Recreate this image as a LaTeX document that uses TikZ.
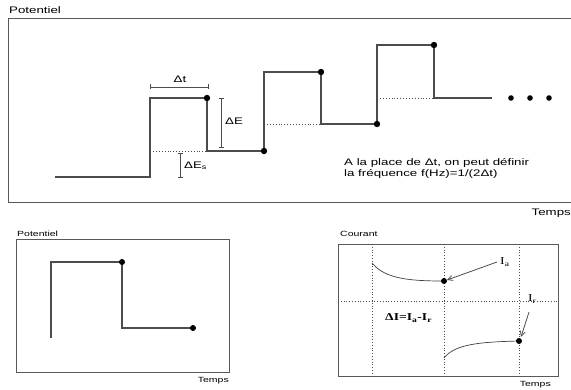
\documentclass[tikz,border=0pt]{standalone}
\usepackage{fontspec}
\setmainfont[FakeStretch=1.4]{Liberation Sans}
\newfontfamily\serf[FakeStretch=1.3]{Liberation Serif}
\usetikzlibrary{arrows.meta}
\begin{document}
\begin{tikzpicture}[x=1pt,y=-1pt,
  frame/.style={draw=black!65,line width=1pt},
  curve/.style={draw=black!70,line width=1.2pt},
  thin curve/.style={draw=black!75,line width=0.7pt},
  dotline/.style={draw=black!70,dotted,line width=0.9pt},
  dim/.style={draw=black!70,line width=0.8pt,{Bar[width=5pt]}-{Bar[width=5pt]}},
  pt/.style={fill=black},
  lbl/.style={inner sep=0pt,font=\fontsize{9.5}{11}\selectfont},
  small/.style={inner sep=0pt,font=\fontsize{7.5}{9}\selectfont},
  arr/.style={draw=black!70,line width=0.8pt,-{Straight Barb[length=5pt,width=5pt]}}]
\useasboundingbox (0,0) rectangle (571,390);
% ---------- top panel ----------
\draw[frame] (571,19) -- (8,19) -- (8,203) -- (571,203);
\node[lbl,anchor=west] (potA) at (9,10) {Potentiel};
\node[lbl,anchor=east] (tempsA) at (571,213) {Temps};
\coordinate (s0) at (55,177);
\coordinate (s1) at (150,177);
\coordinate (s2) at (150,98);
\coordinate (p1) at (207,98);
\coordinate (s3) at (207,151);
\coordinate (p2) at (264,151);
\coordinate (s4) at (264,72);
\coordinate (p3) at (321,72);
\coordinate (s5) at (321,124);
\coordinate (p4) at (377,124);
\coordinate (s6) at (377,45);
\coordinate (p5) at (434,45);
\coordinate (s7) at (434,98);
\coordinate (s8) at (492,98);
\draw[curve] (s0) -- (s1) -- (s2) -- (p1) -- (s3) -- (p2) -- (s4) -- (p3) -- (s5) -- (p4) -- (s6) -- (p5) -- (s7) -- (s8);
\foreach \p in {p1,p2,p3,p4,p5} \fill[pt] (\p) circle (3.2);
\foreach \x in {511,530,549} \fill[pt] (\x,98) circle (2.8);
\coordinate (d1) at (153,151);
\coordinate (d2) at (264,124);
\coordinate (d3) at (377,98);
\draw[dotline] (d1) -- (s3);
\draw[dotline] (d2) -- (s5);
\draw[dotline] (d3) -- (s7);
% dimensions
\draw[dim] (150,87) -- (209,87);
\node[lbl,anchor=south] (dt) at (180,83) {Δt};
\draw[dim] (221,98) -- (221,148);
\node[lbl,anchor=west] (dE) at (225,121) {ΔE};
\draw[dim] (180,153) -- (180,178);
\node[lbl,anchor=west] (dEs) at (184,166) {ΔE\textsubscript{s}};
\node[lbl,anchor=north west,align=left] (txt) at (344,158) {A la place de Δt, on peut définir\\la fréquence f(Hz)=1/(2Δt)};
% ---------- bottom left ----------
\node[small,anchor=west] (potB) at (17,234) {Potentiel};
\draw[frame,line width=0.9pt] (16,239) rectangle (229,372);
\coordinate (b0) at (51,338);
\coordinate (b1) at (51,262);
\coordinate (q1) at (122,262);
\coordinate (b2) at (122,328);
\coordinate (q2) at (193,328);
\draw[curve] (b0) -- (b1) -- (q1) -- (b2) -- (q2);
\fill[pt] (q1) circle (3);
\fill[pt] (q2) circle (3);
\node[small,anchor=east] (tempsB) at (229,381) {Temps};
% ---------- bottom right ----------
\node[small,anchor=west] (cour) at (340,234) {Courant};
\draw[frame,line width=0.9pt] (338,244) rectangle (558,376);
\foreach \x in {372,444,519} \draw[dotline,line width=0.8pt] (\x,244) -- (\x,376);
\draw[dotline,line width=0.8pt] (338,301) -- (558,301);
\coordinate (c0) at (372,263);
\coordinate (ia) at (444,281);
\coordinate (c1) at (444,358);
\coordinate (ir) at (519,341);
\draw[thin curve] (c0) .. controls (385,279) and (410,281) .. (ia);
\draw[thin curve] (c1) .. controls (455,344) and (480,342) .. (ir);
\fill[pt] (ia) circle (3);
\fill[pt] (ir) circle (3);
\node[inner sep=0pt,anchor=west,font=\serf\fontsize{10.5}{12}\selectfont] (Ia) at (500,262) {I\textsubscript{a}};
\node[inner sep=0pt,anchor=west,font=\serf\fontsize{10.5}{12}\selectfont] (Ir) at (528,299) {I\textsubscript{r}};
\coordinate (IaS) at (497,262);
\coordinate (IrS) at (529,312);
\draw[arr] (IaS) -- (447,280);
\draw[arr] (IrS) -- (521,337);
\node[inner sep=0pt,anchor=west,font=\serf\bfseries\fontsize{10.5}{12}\selectfont] (dI) at (385,318) {ΔI=I\textsubscript{a}-I\textsubscript{r}};
\node[small,anchor=east] (tempsC) at (551,385) {Temps};
\end{tikzpicture}
\end{document}
